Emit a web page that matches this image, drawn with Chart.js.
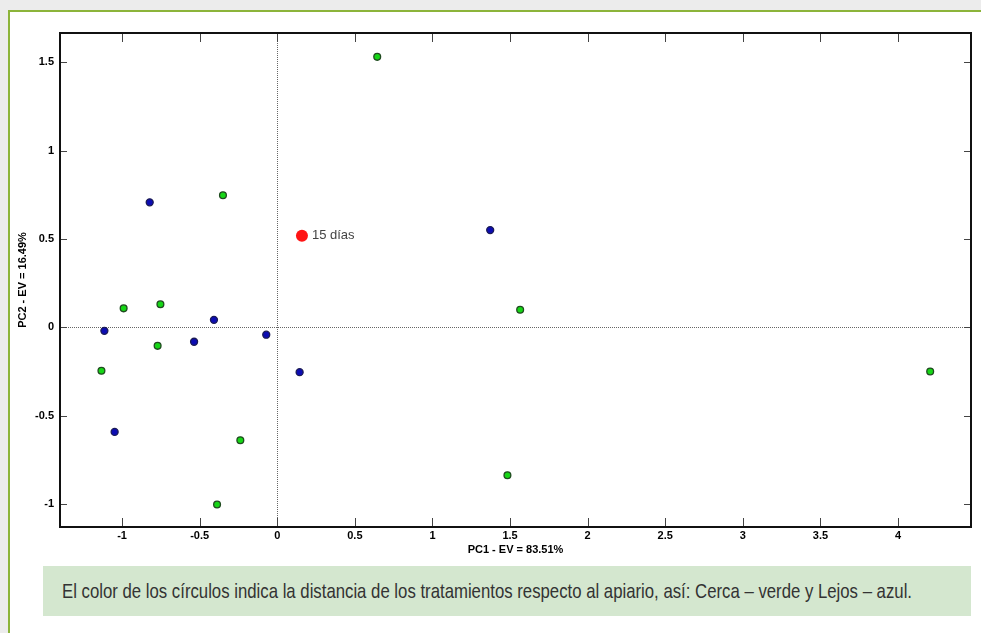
<!DOCTYPE html>
<html>
<head>
<meta charset="utf-8">
<title>PCA – tratamientos</title>
<script src="https://cdn.jsdelivr.net/npm/chart.js@4.4.1/dist/chart.umd.min.js"></script>
<style>
  html, body { margin: 0; padding: 0; }
  body {
    width: 981px; height: 633px; overflow: hidden; position: relative;
    background: #ececec;
    font-family: "Liberation Sans", Arial, sans-serif;
  }
  #panel {
    position: absolute; left: 8px; top: 10px; width: 990px; height: 640px;
    background: #fff; box-sizing: border-box;
    border-left: 2px solid #8cb43a; border-top: 2px solid #8cb43a;
  }
  #plot { position: absolute; left: 0; top: 0; }
  #caption {
    position: absolute; left: 43px; top: 566px; width: 928px; height: 50px;
    background: #d4e7cf; overflow: hidden;
  }
  #caption span {
    position: absolute; left: 19px; top: 50%;
    transform-origin: left center; white-space: nowrap;
    font-size: 21px; color: #333;
    font-family: "Liberation Sans", Arial, sans-serif;
  }
</style>
</head>
<body>
<div id="panel"></div>
<canvas id="plot" width="981" height="565"></canvas>
<div id="caption"><span id="captionText">El color de los círculos indica la distancia de los tratamientos respecto al apiario, así: Cerca – verde y Lejos – azul.</span></div>

<script>
// Scores of each treatment on the first two principal components
const cercaPC1 = [0.644, -0.350, -0.990, -0.753, -0.771, -1.133, -0.238, -0.388, 1.565, 1.483, 4.207];
const cercaPC2 = [1.530, 0.747, 0.107, 0.130, -0.105, -0.246, -0.639, -1.003, 0.099, -0.837, -0.250];

const lejosPC1 = [-0.822, 1.372, -1.114, -0.408, -0.536, -0.071, 0.144, -1.048];
const lejosPC2 = [0.707, 0.550, -0.020, 0.042, -0.082, -0.042, -0.254, -0.592];

const diasPC1 = [0.159];
const diasPC2 = [0.518];
const diasLabel = '15 días';

const xTicks = [-1, -0.5, 0, 0.5, 1, 1.5, 2, 2.5, 3, 3.5, 4];
const yTicks = [-1, -0.5, 0, 0.5, 1, 1.5];

const xTitle = 'PC1 - EV = 83.51%';
const yTitle = 'PC2 - EV = 16.49%';

const toPoints = (xs, ys) => xs.map((x, i) => ({ x, y: ys[i] }));

// Boxed frame with inward tick marks on all four sides, plus the origin lines
const framePlugin = {
  id: 'frame',
  beforeDatasetsDraw(chart) {
    const { ctx, chartArea: a, scales: { x, y } } = chart;
    ctx.save();
    // origin lines
    ctx.strokeStyle = '#666';
    ctx.lineWidth = 1;
    ctx.setLineDash([1, 1]);
    const x0 = Math.round(x.getPixelForValue(0)) + 0.5;
    const y0 = Math.round(y.getPixelForValue(0)) + 0.5;
    ctx.beginPath();
    ctx.moveTo(x0, a.top); ctx.lineTo(x0, a.bottom);
    ctx.moveTo(a.left, y0); ctx.lineTo(a.right, y0);
    ctx.stroke();
    ctx.setLineDash([]);

    // tick marks
    ctx.strokeStyle = '#444';
    ctx.lineWidth = 1;
    ctx.beginPath();
    xTicks.forEach(v => {
      const px = Math.round(x.getPixelForValue(v)) + 0.5;
      ctx.moveTo(px, a.top); ctx.lineTo(px, a.top + 9);
      ctx.moveTo(px, a.bottom); ctx.lineTo(px, a.bottom - 9);
    });
    yTicks.forEach(v => {
      const py = Math.round(y.getPixelForValue(v)) + 0.5;
      ctx.moveTo(a.left, py); ctx.lineTo(a.left + 7, py);
      ctx.moveTo(a.right, py); ctx.lineTo(a.right - 7, py);
    });
    ctx.stroke();

    // frame
    ctx.strokeStyle = '#111';
    ctx.lineWidth = 2;
    ctx.strokeRect(a.left, a.top, a.right - a.left, a.bottom - a.top);
    ctx.restore();
  },
  afterDatasetsDraw(chart) {
    const { ctx } = chart;
    const pt = chart.getDatasetMeta(2).data[0];
    ctx.save();
    ctx.font = '13px "Liberation Sans", Arial, sans-serif';
    ctx.fillStyle = '#444';
    ctx.textAlign = 'left';
    ctx.textBaseline = 'middle';
    ctx.fillText(diasLabel, pt.x + 10, pt.y);
    ctx.restore();
  }
};

const tickFont = { family: '"Liberation Sans", Arial, sans-serif', size: 11, weight: 'bold' };

new Chart(document.getElementById('plot'), {
  type: 'scatter',
  data: {
    datasets: [
      {
        label: 'Cerca',
        data: toPoints(cercaPC1, cercaPC2),
        backgroundColor: '#16d616',
        borderColor: '#1f4a1f',
        borderWidth: 1.3,
        pointRadius: 3.4
      },
      {
        label: 'Lejos',
        data: toPoints(lejosPC1, lejosPC2),
        backgroundColor: '#0c0cb2',
        borderColor: '#1b1b55',
        borderWidth: 1.3,
        pointRadius: 3.5
      },
      {
        label: diasLabel,
        data: toPoints(diasPC1, diasPC2),
        backgroundColor: '#ff1414',
        borderWidth: 0,
        pointRadius: 6
      }
    ]
  },
  options: {
    responsive: false,
    animation: false,
    layout: { padding: { left: 0, top: 33, right: 10, bottom: 0 } },
    plugins: { legend: { display: false }, tooltip: { enabled: false } },
    scales: {
      x: {
        type: 'linear',
        min: -1.4,
        max: 4.47,
        grid: { display: false, drawTicks: false },
        border: { display: false },
        afterBuildTicks: s => { s.ticks = xTicks.map(v => ({ value: v })); },
        afterFit: s => { s.height = 38; },
        ticks: { padding: 2, color: '#000', font: tickFont, maxRotation: 0, autoSkip: false,
                 callback: v => String(v) },
        title: { display: true, text: xTitle, color: '#000', font: tickFont,
                 padding: { top: 0, bottom: 8 } }
      },
      y: {
        type: 'linear',
        min: -1.13,
        max: 1.665,
        grid: { display: false, drawTicks: false },
        border: { display: false },
        afterBuildTicks: s => { s.ticks = yTicks.map(v => ({ value: v })); },
        afterFit: s => { s.width = 60; },
        ticks: { padding: 6, color: '#000', font: tickFont, autoSkip: false,
                 callback: v => String(v) },
        title: { display: true, text: yTitle, color: '#000', font: tickFont,
                 padding: { top: 16, bottom: 0 } }
      }
    }
  },
  plugins: [framePlugin]
});

// Narrow the caption line so it fills its box width
(function fitCaption() {
  const span = document.getElementById('captionText');
  const w = span.getBoundingClientRect().width;
  const sx = 850 / w;
  span.style.transform = 'translateY(-50%) scaleX(' + sx.toFixed(4) + ')';
})();
</script>
</body>
</html>
